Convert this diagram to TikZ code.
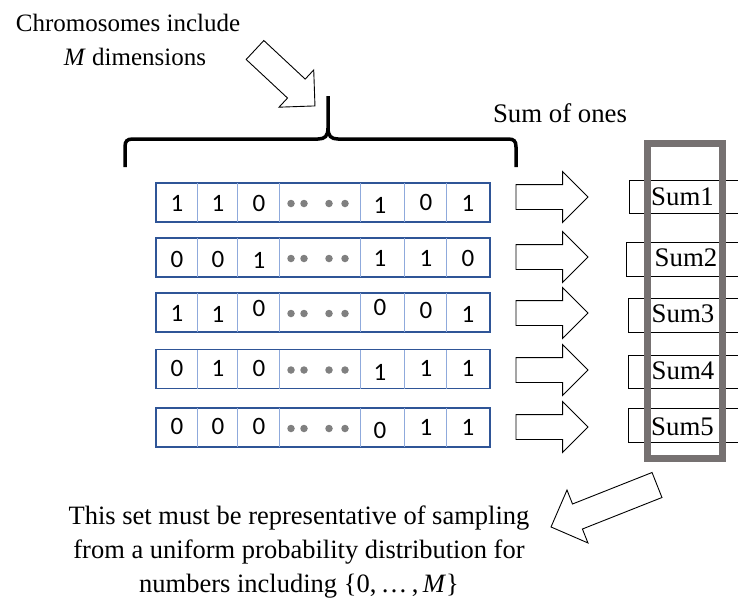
\documentclass[tikz,border=0pt]{standalone}
\usepackage{fontspec}
\setmainfont{Liberation Serif}
\newfontfamily\digitfont{Carlito}
\usetikzlibrary{shapes.arrows}
\definecolor{cellouter}{HTML}{2F5597}
\definecolor{cellinner}{HTML}{8FAADC}
\definecolor{framegray}{HTML}{767171}
\definecolor{dotgray}{HTML}{808080}

\begin{document}
\begin{tikzpicture}[x=1pt,y=-1pt,
  blockarrow/.style={shape=single arrow, draw=black, fill=white, line width=0.9pt,
    inner xsep=0pt, inner ysep=12pt, single arrow head extend=13pt,
    single arrow tip angle=90, single arrow head indent=0pt, outer sep=0pt},
  serif/.style={font=\fontsize{25}{34}\selectfont, inner sep=0pt, align=center},
  bigserif/.style={serif, font=\fontsize{26.8}{34}\selectfont},
  bit/.style={font=\digitfont\fontsize{25}{25}\selectfont, inner sep=0pt},
  rowbox/.style={draw=cellouter, line width=1.4pt, minimum width=334pt, minimum height=39pt, inner sep=0pt},
  divider/.style={draw=cellinner, line width=1pt},
  sumbox/.style={draw=black, line width=0.9pt},
  dot/.style={circle, fill=dotgray, inner sep=0pt, minimum size=7.5pt}]

\useasboundingbox (0,0) rectangle (738,597);

% ---- chromosome rows ----
\foreach \r/\yc in {1/202.5, 2/257.5, 3/312.5, 4/369, 5/427.5} {
  \node[rowbox] (row\r) at (323,\yc) {};
  \foreach \x in {197,237,279,360,404,446}
    \draw[divider] (\x,\yc-19.5) -- (\x,\yc+19.5);
  \foreach \x in {291,304,329,345}
    \node[dot] at (\x,\yc+1) {};
}

% ---- genes ----
\foreach \x/\d/\y in {177/1/203, 218/1/203, 259/0/203, 380/1/205, 426/0/202, 468/1/203}
  \node[bit] at (\x,\y) {\d};
\foreach \x/\d/\y in {177/0/259, 218/0/259, 259/1/260, 380/1/258, 426/1/258, 468/0/258}
  \node[bit] at (\x,\y) {\d};
\foreach \x/\d/\y in {177/1/313, 218/1/314, 259/0/308, 380/0/307, 426/0/310, 468/1/314}
  \node[bit] at (\x,\y) {\d};
\foreach \x/\d/\y in {177/0/368, 218/1/368, 259/0/368, 380/1/372, 426/1/368, 468/1/368}
  \node[bit] at (\x,\y) {\d};
\foreach \x/\d/\y in {177/0/426, 218/0/426, 259/0/426, 380/0/430, 426/1/427, 468/1/427}
  \node[bit] at (\x,\y) {\d};

% ---- brace over the chromosome ----
\draw[line width=3.5pt]
  (125,167) -- (125,147) .. controls (125,141) and (127,139) .. (133,139)
  -- (318,139) .. controls (325,139) and (328,136) .. (328,128) -- (328,96);
\draw[line width=3.5pt]
  (328,128) .. controls (328,136) and (331,139) .. (338,139)
  -- (508,139) .. controls (514,139) and (516,141) .. (516,147) -- (516,167);

% ---- captions ----
\node[serif] (dims) at (128,40) {Chromosomes include\\\hspace*{14pt}\textit{M} dimensions};
\node[bigserif] (sumlabel) at (560,113) {Sum of ones};
\node[serif, font=\fontsize{26.5}{34}\selectfont] (note) at (299,552) {This set must be representative of sampling\\
  from a uniform probability distribution for\\
  numbers including \{0,\,…\,,\,\textit{M}\}};

\node[blockarrow, minimum height=82pt, inner ysep=12.5pt, single arrow head extend=12.5pt,
  rotate=-43, anchor=tail] (dimsarrow) at (255,50) {};

% ---- sums ----
\draw[sumbox] (738,180) -| (629,213) -- (738,213);
\draw[sumbox] (738,242) -| (626,276) -- (738,276);
\draw[sumbox] (738,298) -| (628,332) -- (738,332);
\draw[sumbox] (738,355) -| (628,388) -- (738,388);
\draw[sumbox] (738,408) -| (628,442) -- (738,442);

\foreach \i/\y in {1/197, 2/257, 3/313, 4/370, 5/427}
  \node[blockarrow, minimum height=72pt, anchor=tail] (sumarrow\i) at (516,\y) {};

\draw[framegray, line width=7pt] (647.5,143.5) rectangle (722.5,458.5);

\node[bigserif] (sum1) at (682.5,197) {Sum1};
\node[bigserif] (sum2) at (686,258) {Sum2};
\node[bigserif] (sum3) at (683,314) {Sum3};
\node[bigserif] (sum4) at (683,371) {Sum4};
\node[bigserif] (sum5) at (682.5,427) {Sum5};

\node[blockarrow, minimum height=114pt, inner ysep=13pt, single arrow head extend=15pt,
  rotate=201.6, anchor=tail] (setarrow) at (657,485) {};
\end{tikzpicture}
\end{document}
